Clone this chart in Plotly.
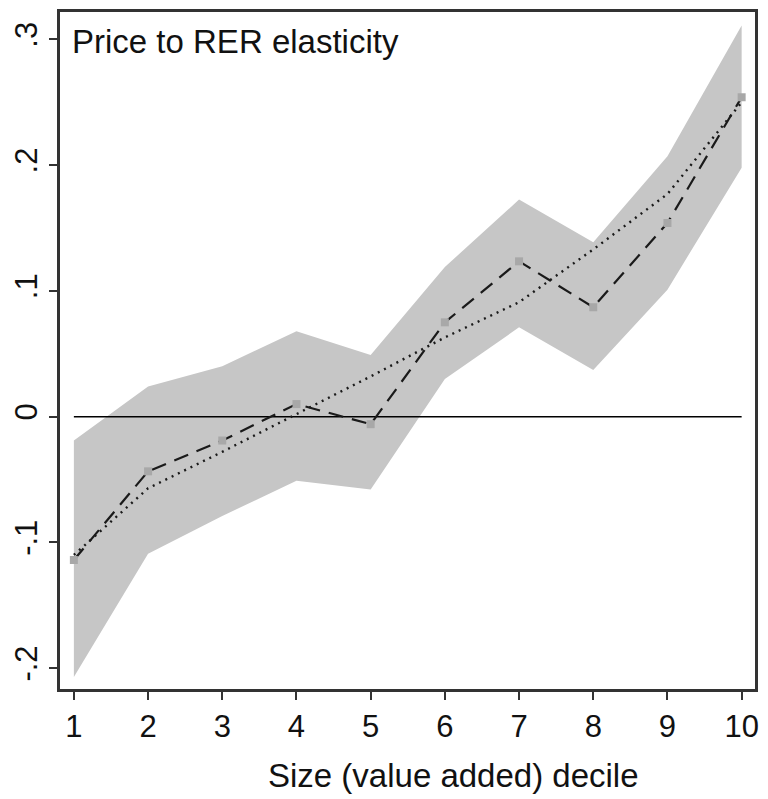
import plotly.graph_objects as go

deciles = [1, 2, 3, 4, 5, 6, 7, 8, 9, 10]
estimate = [-0.114, -0.0435, -0.019, 0.010, -0.006, 0.075, 0.1235, 0.087, 0.154, 0.254]
ci_upper = [-0.019, 0.024, 0.040, 0.068, 0.049, 0.119, 0.1726, 0.1386, 0.207, 0.311]
ci_lower = [-0.207, -0.109, -0.079, -0.051, -0.058, 0.030, 0.071, 0.037, 0.101, 0.198]
fitted = [-0.110, -0.057, -0.028, 0.002, 0.032, 0.063, 0.091, 0.133, 0.177, 0.250]
zero_line = [0] * len(deciles)

y_ticks = [-0.2, -0.1, 0, 0.1, 0.2, 0.3]
y_tick_labels = ["-.2", "-.1", "0", ".1", ".2", ".3"]

font_family = "Liberation Sans, Arial, sans-serif"

fig = go.Figure()
fig.add_trace(go.Scatter(x=deciles + deciles[::-1], y=ci_upper + ci_lower[::-1],
                         fill="toself", fillcolor="#c6c6c6", line=dict(width=0),
                         mode="lines", hoverinfo="skip", showlegend=False))
fig.add_trace(go.Scatter(x=deciles, y=zero_line, mode="lines",
                         line=dict(color="black", width=1.5), showlegend=False))
fig.add_trace(go.Scatter(x=deciles, y=estimate, mode="lines",
                         line=dict(color="#1a1a1a", width=2.2, dash="15px,9px"), showlegend=False))
fig.add_trace(go.Scatter(x=deciles, y=fitted, mode="lines",
                         line=dict(color="#1a1a1a", width=2.4, dash="2px,5px"), showlegend=False))
fig.add_trace(go.Scatter(x=deciles, y=estimate, mode="markers",
                         marker=dict(color="#a8a8a8", size=8, symbol="square"), showlegend=False))

fig.add_annotation(x=0, y=1, xref="paper", yref="paper", xanchor="left", yanchor="top",
                   xshift=10, yshift=-9, text="Price to RER elasticity", showarrow=False,
                   font=dict(size=33, color="#111", family=font_family))
fig.add_annotation(x=0.566, y=0, xref="paper", yref="paper", xanchor="center", yanchor="middle",
                   yshift=-86, text="Size (value added) decile", showarrow=False,
                   font=dict(size=33, color="#111", family=font_family))

fig.update_layout(
    width=768, height=799,
    margin=dict(l=58, r=9, t=10, b=110),
    paper_bgcolor="white", plot_bgcolor="white",
    font=dict(family=font_family, color="#111"),
)
fig.update_xaxes(range=[0.813, 10.18], tickvals=deciles, ticks="outside", ticklen=8,
                 tickwidth=2, tickcolor="#333", showline=True, linewidth=2.5, linecolor="#333",
                 mirror=True, showgrid=False, zeroline=False,
                 tickfont=dict(size=31, family=font_family, color="#111"))
fig.update_yaxes(range=[-0.2166, 0.3218], tickvals=y_ticks, ticktext=y_tick_labels,
                 ticks="outside", ticklen=8, tickwidth=2, tickcolor="#333", tickangle=-90,
                 showline=True, linewidth=2.5, linecolor="#333", mirror=True,
                 showgrid=False, zeroline=False,
                 tickfont=dict(size=31, family=font_family, color="#111"))

fig.write_html("out.html")
